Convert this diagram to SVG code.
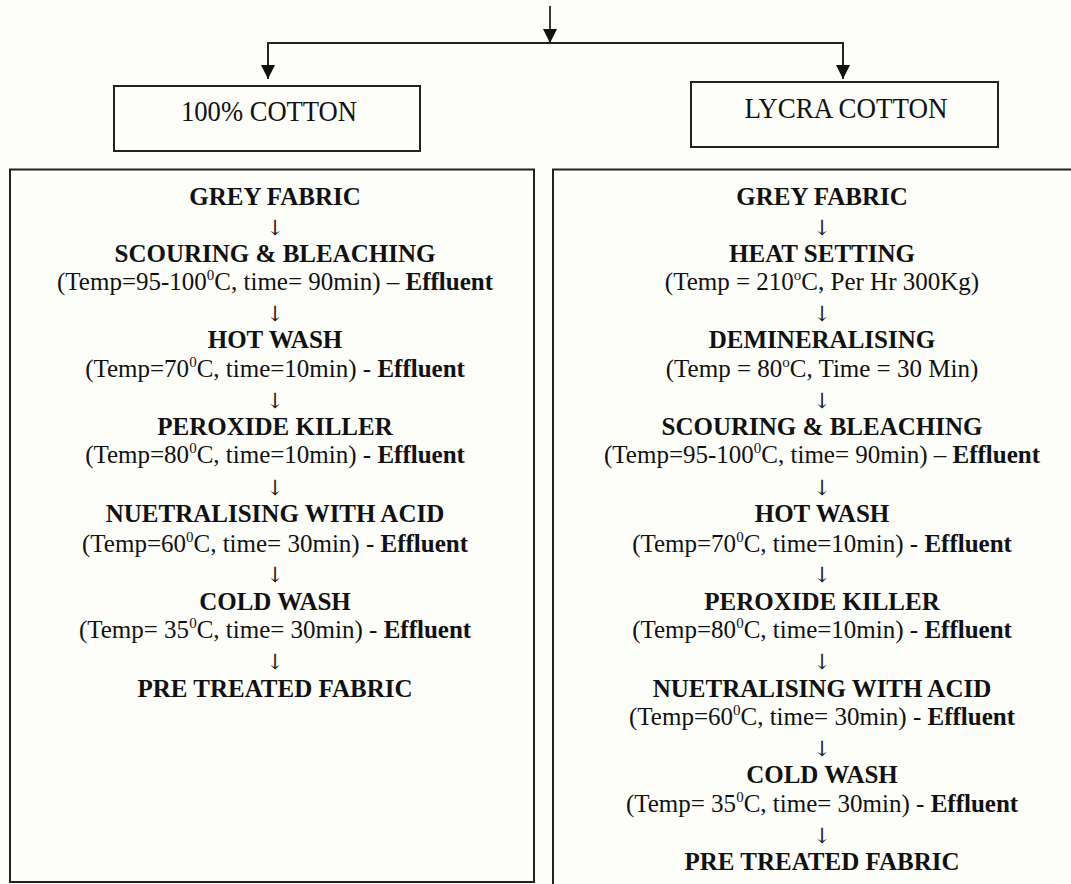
<svg xmlns="http://www.w3.org/2000/svg" width="1071" height="884" viewBox="0 0 1071 884">
<style>
  .bg { fill: #fdfdfa; }
  .box { fill: none; stroke: #222; stroke-width: 2; }
  .con { fill: none; stroke: #222; stroke-width: 1.8; }
  text { font-family: "Liberation Serif", "Times New Roman", serif; fill: #111; text-anchor: middle; }
  .t { font-size: 25px; font-weight: bold; }
  .p { font-size: 25px; }
  .b { font-weight: bold; }
  .ar { font-family: "DejaVu Serif", "DejaVu Sans", serif; font-size: 21px; fill: #222; }
  .hd { font-size: 29px; }
  .sup { font-size: 15px; }
</style>
<defs>
  <marker id="ah" viewBox="0 0 14 14" refX="14" refY="7" markerWidth="14" markerHeight="14" markerUnits="userSpaceOnUse" orient="auto">
    <path d="M0,0 L14,7 L0,14 Z" fill="#111"/>
  </marker>
</defs>
<rect class="bg" x="0" y="0" width="1071" height="884"/>

<g id="connectors">
  <line class="con" x1="550" y1="6" x2="550" y2="43" marker-end="url(#ah)"/>
  <polyline class="con" points="268,79 268,43 843,43 843,79"/>
  <line class="con" x1="268" y1="43" x2="268" y2="79" marker-end="url(#ah)"/>
  <line class="con" x1="843" y1="43" x2="843" y2="79" marker-end="url(#ah)"/>
</g>

<g id="node-cotton">
  <rect class="box" x="114" y="86" width="306" height="65"/>
  <text class="hd" x="269" y="121" textLength="176" lengthAdjust="spacingAndGlyphs">100% COTTON</text>
</g>

<g id="node-lycra">
  <rect class="box" x="691" y="82" width="307" height="65"/>
  <text class="hd" x="846" y="118" textLength="203" lengthAdjust="spacingAndGlyphs">LYCRA COTTON</text>
</g>

<g id="node-cotton-process">
  <rect class="box" x="10" y="169.5" width="524" height="712.5"/>
  <text class="t" x="275" y="205">GREY FABRIC</text>
  <text class="ar" x="275" y="235">↓</text>
  <text class="t" x="275" y="262">SCOURING &amp; BLEACHING</text>
  <text class="p" x="275" y="290">(Temp=95-100<tspan class="sup" dy="-10">0</tspan><tspan dy="10">C, time= 90min) – </tspan><tspan class="b">Effluent</tspan></text>
  <text class="ar" x="275" y="321">↓</text>
  <text class="t" x="275" y="348">HOT WASH</text>
  <text class="p" x="275" y="377">(Temp=70<tspan class="sup" dy="-10">0</tspan><tspan dy="10">C, time=10min) - </tspan><tspan class="b">Effluent</tspan></text>
  <text class="ar" x="275" y="408">↓</text>
  <text class="t" x="275" y="435">PEROXIDE KILLER</text>
  <text class="p" x="275" y="463">(Temp=80<tspan class="sup" dy="-10">0</tspan><tspan dy="10">C, time=10min) - </tspan><tspan class="b">Effluent</tspan></text>
  <text class="ar" x="275" y="495">↓</text>
  <text class="t" x="275" y="522">NUETRALISING WITH ACID</text>
  <text class="p" x="275" y="552">(Temp=60<tspan class="sup" dy="-10">0</tspan><tspan dy="10">C, time= 30min) - </tspan><tspan class="b">Effluent</tspan></text>
  <text class="ar" x="275" y="582">↓</text>
  <text class="t" x="275" y="610">COLD WASH</text>
  <text class="p" x="275" y="638">(Temp= 35<tspan class="sup" dy="-10">0</tspan><tspan dy="10">C, time= 30min) - </tspan><tspan class="b">Effluent</tspan></text>
  <text class="ar" x="275" y="669">↓</text>
  <text class="t" x="275" y="697">PRE TREATED FABRIC</text>
</g>

<g id="node-lycra-process">
  <path class="box" d="M1080,169.5 H553 V890"/>
  <text class="t" x="822" y="205">GREY FABRIC</text>
  <text class="ar" x="822" y="235">↓</text>
  <text class="t" x="822" y="262">HEAT SETTING</text>
  <text class="p" x="822" y="290">(Temp = 210<tspan class="sup" dy="-10">o</tspan><tspan dy="10">C, Per Hr 300Kg)</tspan></text>
  <text class="ar" x="822" y="321">↓</text>
  <text class="t" x="822" y="348">DEMINERALISING</text>
  <text class="p" x="822" y="377">(Temp = 80<tspan class="sup" dy="-10">o</tspan><tspan dy="10">C, Time = 30 Min)</tspan></text>
  <text class="ar" x="822" y="408">↓</text>
  <text class="t" x="822" y="435">SCOURING &amp; BLEACHING</text>
  <text class="p" x="822" y="463">(Temp=95-100<tspan class="sup" dy="-10">0</tspan><tspan dy="10">C, time= 90min) – </tspan><tspan class="b">Effluent</tspan></text>
  <text class="ar" x="822" y="495">↓</text>
  <text class="t" x="822" y="522">HOT WASH</text>
  <text class="p" x="822" y="552">(Temp=70<tspan class="sup" dy="-10">0</tspan><tspan dy="10">C, time=10min) - </tspan><tspan class="b">Effluent</tspan></text>
  <text class="ar" x="822" y="582">↓</text>
  <text class="t" x="822" y="610">PEROXIDE KILLER</text>
  <text class="p" x="822" y="638">(Temp=80<tspan class="sup" dy="-10">0</tspan><tspan dy="10">C, time=10min) - </tspan><tspan class="b">Effluent</tspan></text>
  <text class="ar" x="822" y="669">↓</text>
  <text class="t" x="822" y="697">NUETRALISING WITH ACID</text>
  <text class="p" x="822" y="725">(Temp=60<tspan class="sup" dy="-10">0</tspan><tspan dy="10">C, time= 30min) - </tspan><tspan class="b">Effluent</tspan></text>
  <text class="ar" x="822" y="756">↓</text>
  <text class="t" x="822" y="783">COLD WASH</text>
  <text class="p" x="822" y="812">(Temp= 35<tspan class="sup" dy="-10">0</tspan><tspan dy="10">C, time= 30min) - </tspan><tspan class="b">Effluent</tspan></text>
  <text class="ar" x="822" y="843">↓</text>
  <text class="t" x="822" y="870">PRE TREATED FABRIC</text>
</g>
</svg>
